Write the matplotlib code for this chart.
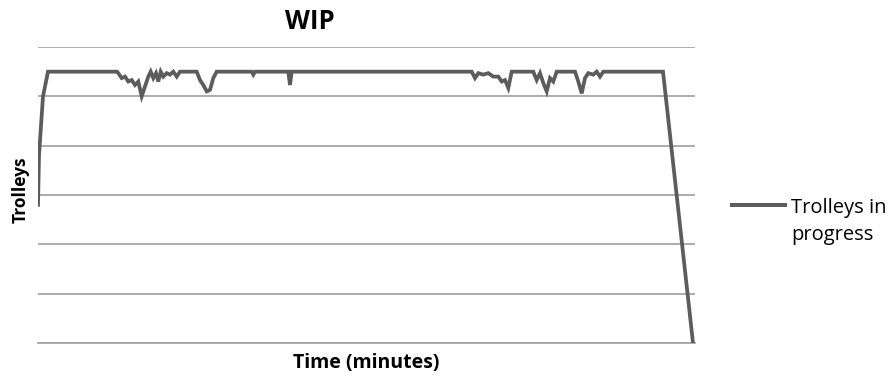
import matplotlib
matplotlib.use("Agg")
import matplotlib.pyplot as plt
from matplotlib.lines import Line2D

# Time (minutes) and trolleys in progress
time_min = [0, 1, 3, 5, 7, 10,
            79, 80.3, 83.7, 87, 90.3, 93.7, 97, 100.3, 103.7, 107, 110.3, 112.7,
            115.3, 118, 120.3, 122.7, 125.3, 128.7, 132, 135.3, 138.7, 142,
            158.7, 162, 165.3, 168.7, 172, 175.3, 178.7,
            213.7, 215.3, 217, 250.3, 252, 253.7,
            433.7, 437, 440.3, 445.3, 450.3, 455.3, 460.3, 463.7, 467, 470.3, 473.7,
            495.3, 498.7, 502, 505.3, 508.7, 512, 515.3, 518.7,
            537, 540.3, 543.7, 547, 550.3, 555.3, 558.7, 562, 565.3,
            623.7, 625, 655]
trolleys = [28, 38, 44, 50, 52, 55,
            55, 54.7, 53.7, 54.0, 53.0, 53.3, 52.3, 53.0, 50.0, 52.0, 54.0, 55.0,
            53.7, 54.7, 53.0, 55.0, 54.0, 54.7, 54.4, 55.0, 54.0, 55.0,
            55.0, 53.3, 52.3, 51.0, 51.3, 53.7, 55.0,
            55.0, 54.4, 55.0, 55.0, 52.3, 55.0,
            55.0, 53.7, 54.7, 54.4, 54.7, 54.0, 54.0, 53.0, 53.3, 51.7, 55.0,
            55.0, 53.3, 54.7, 52.7, 51.0, 53.7, 53.0, 55.0,
            55.0, 53.0, 50.6, 53.7, 54.7, 54.4, 55.0, 54.0, 55.0,
            55.0, 55.0, 0]

series_label_lines = ["Trolleys in", "progress"]
title = "WIP"
xlabel = "Time (minutes)"
ylabel = "Trolleys"

plt.rcParams['font.family'] = ['Open Sans', 'DejaVu Sans']

W, H = 892, 378
fig = plt.figure(figsize=(W/100, H/100), dpi=100)
ax = fig.add_axes([38/W, 1-343/H, (695-38)/W, (343-47)/H])

line_color = '#5c5c5c'
ax.plot(time_min, trolleys, color=line_color, lw=2.7,
        solid_joinstyle='miter', zorder=3)

ax.set_xlim(0, 657)
ax.set_ylim(0, 60)
ax.set_yticks(range(0, 61, 10))
ax.set_xticks([])
ax.tick_params(axis='y', length=0, labelleft=False)
ax.grid(axis='y', color='#a6a6a6', lw=1.3)
ax.set_axisbelow(True)
for s in ['left', 'right', 'top']:
    ax.spines[s].set_visible(False)
ax.spines['bottom'].set_color('#a6a6a6')
ax.spines['bottom'].set_linewidth(1.3)

fig.text(310/W, 1-29.3/H, title, ha='center', va='baseline',
         fontsize=18.5, fontweight='bold')
fig.text(366/W, 1-368/H, xlabel, ha='center', va='baseline',
         fontsize=14, fontweight='bold')
fig.text(21/W, 1-190/H, ylabel, ha='center', va='center',
         fontsize=12.5, fontweight='bold', rotation=90)

# legend (handle aligned with first label line, as in the reference)
fig.add_artist(Line2D([732/W, 785/W], [1-205/H, 1-205/H], color=line_color,
                      lw=2.9, transform=fig.transFigure))
fig.text(791/W, 1-213/H, series_label_lines[0], ha='left', va='baseline',
         fontsize=14.5)
fig.text(791/W, 1-240/H, series_label_lines[1], ha='left', va='baseline',
         fontsize=14.5)

fig.savefig('out.png', dpi=100)
